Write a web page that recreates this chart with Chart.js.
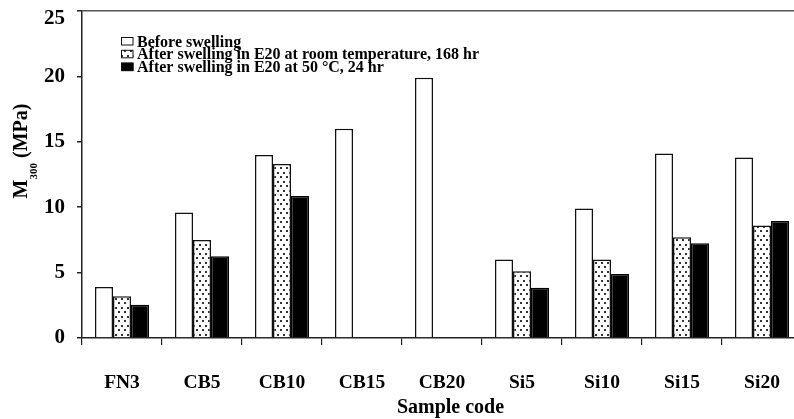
<!DOCTYPE html>
<html>
<head>
<meta charset="utf-8">
<script src="https://cdn.jsdelivr.net/npm/chart.js@4/dist/chart.umd.min.js"></script>
<style>
  html, body { margin: 0; padding: 0; background: #fff; width: 794px; height: 419px; overflow: hidden; }
  #chart { display: block; }
</style>
</head>
<body>
<canvas id="chart" width="794" height="419"></canvas>
<script>
// Sample codes along the x axis
const categories = ['FN3', 'CB5', 'CB10', 'CB15', 'CB20', 'Si5', 'Si10', 'Si15', 'Si20'];

// Series names
const seriesLabels = [
  'Before swelling',
  'After swelling in E20 at room temperature, 168 hr',
  'After swelling in E20 at 50 \u00B0C, 24 hr'
];

// M300 modulus (MPa) for each sample
const beforeSwelling = [3.9, 9.6, 14.0, 16.0, 19.9, 6.0, 9.9, 14.1, 13.8];
const afterRoomTemp168h = [3.2, 7.5, 13.3, null, null, 5.1, 6.0, 7.7, 8.6];
const after50C24h = [2.55, 6.25, 10.85, null, null, 3.85, 4.9, 7.25, 8.95];

// Value axis range and step
const yMin = 0;
const yMax = 25;
const yStep = 5;

const FONT = '"Liberation Serif", "Times New Roman", serif';

// Small staggered dot fill for the room-temperature series
function dotPattern() {
  const tile = document.createElement('canvas');
  tile.width = 6;
  tile.height = 9;
  const t = tile.getContext('2d');
  t.fillStyle = '#fff';
  t.fillRect(0, 0, 6, 9);
  t.fillStyle = '#333';
  t.fillRect(1, 1, 2, 2);
  t.fillRect(4, 5, 2, 2);
  return document.getElementById('chart').getContext('2d').createPattern(tile, 'repeat');
}

// The plot runs past the right edge of the canvas (the last category is
// cut off), so the x scale is stretched to end beyond the canvas width.
const PLOT_RIGHT = 802;
function stretchX(chart) {
  const x = chart.scales.x;
  if (!x) return;
  x.right = PLOT_RIGHT;
  x.width = PLOT_RIGHT - x.left;
  x.configure();
  x._labelItems = null;
  x._gridLineItems = null;
  chart.chartArea.right = PLOT_RIGHT;
  chart.chartArea.width = PLOT_RIGHT - chart.chartArea.left;
  if (chart.scales.y) chart.scales.y._gridLineItems = null;
}
const widenPlot = {
  id: 'widenPlot',
  afterLayout(chart) { stretchX(chart); },
  beforeDatasetsUpdate(chart) { stretchX(chart); }
};

// Legend drawn inside the plot area, with tight rows
const insideLegend = {
  id: 'insideLegend',
  afterDraw(chart) {
    const ctx = chart.ctx;
    const area = chart.chartArea;
    const boxX = area.left + 39;
    const textX = area.left + 55;
    const firstBaseline = area.top + 35.5;
    const rowGap = 12.8;
    ctx.save();
    ctx.font = 'bold 16px ' + FONT;
    ctx.textBaseline = 'alphabetic';
    ctx.textAlign = 'left';
    chart.data.datasets.forEach((ds, i) => {
      const base = firstBaseline + i * rowGap;
      ctx.fillStyle = ds.backgroundColor;
      ctx.fillRect(boxX, base - 9.5, 12.5, 8.5);
      ctx.lineWidth = 1;
      ctx.strokeStyle = '#111';
      ctx.strokeRect(boxX + 0.5, base - 9, 11.5, 7.5);
      ctx.fillStyle = '#000';
      ctx.fillText(ds.label, textX, base);
    });
    ctx.restore();
  }
};

// Axis titles: subscripted y title and the x title
const axisTitles = {
  id: 'axisTitles',
  afterDraw(chart) {
    const ctx = chart.ctx;
    const area = chart.chartArea;
    ctx.save();
    ctx.fillStyle = '#000';
    ctx.textBaseline = 'alphabetic';
    ctx.textAlign = 'left';

    const bigFont = 'bold 20px ' + FONT;
    const subFont = 'bold 11px ' + FONT;
    ctx.font = bigFont;
    const wM = ctx.measureText('M').width;
    const wRest = ctx.measureText(' (MPa)').width;
    ctx.font = subFont;
    const wSub = ctx.measureText('300').width;
    const total = wM + wSub + wRest;

    ctx.translate(27, (area.top + area.bottom) / 2 - 23.5);
    ctx.rotate(-Math.PI / 2);
    let x = -total / 2;
    ctx.font = bigFont;
    ctx.fillText('M', x, 0);
    x += wM;
    ctx.font = subFont;
    ctx.fillText('300', x, 10);
    x += wSub;
    ctx.font = bigFont;
    ctx.fillText(' (MPa)', x, 0);
    ctx.setTransform(1, 0, 0, 1, 0, 0);

    ctx.font = bigFont;
    ctx.textAlign = 'center';
    ctx.fillText('Sample code', chart.scales.x.getPixelForValue(4) + 8.5, 413);
    ctx.restore();
  }
};

new Chart(document.getElementById('chart'), {
  type: 'bar',
  data: {
    labels: categories,
    datasets: [
      {
        label: seriesLabels[0],
        data: beforeSwelling,
        backgroundColor: '#ffffff',
        borderColor: '#111',
        borderWidth: 1.5
      },
      {
        label: seriesLabels[1],
        data: afterRoomTemp168h,
        backgroundColor: dotPattern(),
        borderColor: '#111',
        borderWidth: 1.5
      },
      {
        label: seriesLabels[2],
        data: after50C24h,
        backgroundColor: '#000000',
        borderColor: '#000',
        borderWidth: 1.5
      }
    ]
  },
  options: {
    responsive: false,
    animation: false,
    devicePixelRatio: 1,
    layout: { padding: { top: 11, left: 0, right: 0, bottom: 0 } },
    datasets: {
      bar: { categoryPercentage: 0.675, barPercentage: 1.0 }
    },
    plugins: {
      legend: { display: false },
      tooltip: { enabled: false },
      title: { display: false }
    },
    scales: {
      x: {
        offset: true,
        grid: {
          display: true,
          offset: true,
          drawOnChartArea: false,
          tickLength: 7,
          color: '#222',
          lineWidth: 1.2
        },
        border: { display: true, color: '#222', width: 1.5 },
        ticks: {
          color: '#000',
          padding: 28,
          maxRotation: 0,
          autoSkip: false,
          font: { family: FONT, size: 19.5, weight: 'bold', lineHeight: 1 }
        },
        afterFit(scale) {
          scale.height = 81;
          scale.paddingLeft = 0;
          scale.paddingRight = 0;
        }
      },
      y: {
        min: yMin,
        max: yMax,
        grid: {
          display: true,
          drawOnChartArea: true,
          tickLength: 5,
          color: (c) => (c.tick && c.tick.value === yMax ? '#555' : 'rgba(0,0,0,0)'),
          tickColor: '#222',
          lineWidth: 1.5
        },
        border: { display: true, color: '#222', width: 1.5 },
        ticks: {
          stepSize: yStep,
          color: '#000',
          padding: 12,
          // the topmost label sits a little below its tick, kept inside the figure
          callback: (v) => (v === yMax ? ['', String(v)] : String(v)),
          font: { family: FONT, size: 21, weight: 'bold', lineHeight: 0.74 }
        },
        afterFit(scale) {
          scale.width = 82;
          scale.paddingTop = 0;
          scale.paddingBottom = 0;
        }
      }
    }
  },
  plugins: [widenPlot, insideLegend, axisTitles]
});
</script>
</body>
</html>
